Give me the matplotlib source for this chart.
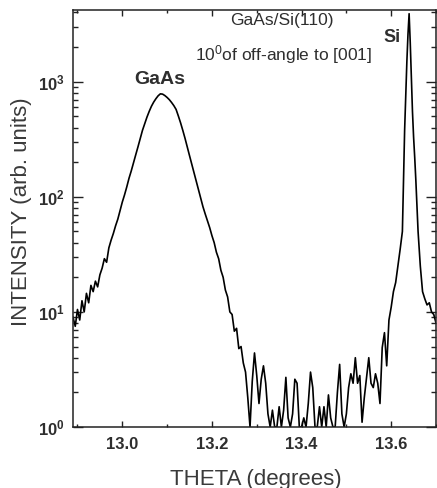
import numpy as np
import matplotlib
matplotlib.use("Agg")
import matplotlib.pyplot as plt
from matplotlib.ticker import LogLocator, MultipleLocator, NullFormatter

plt.rcParams['font.family'] = ['Liberation Sans', 'DejaVu Sans']
plt.rcParams['mathtext.fontset'] = 'custom'
plt.rcParams['mathtext.rm'] = 'Liberation Sans'
plt.rcParams['mathtext.bf'] = 'Liberation Sans:bold'
plt.rcParams['mathtext.it'] = 'Liberation Sans:italic'

# ---- data ----
# coarse scan 12.890 .. 13.615, step 0.005
scan1_start, scan1_step = 12.890, 0.005
scan1_intensity = [
    9.0, 7.5, 10.5, 8.5, 12.5, 10.0, 14.5, 12.0, 17.0, 15.0,          # 12.890-12.935
    18.5, 16.5, 21.0, 24.0, 29.0, 27.0, 36.0, 42.0, 48.0, 56.0,       # 12.940-12.985
    64.0, 76.0, 90.0, 104, 122, 145, 168, 198, 232, 272,              # 12.990-13.035
    322, 378, 432, 492, 552, 612, 665, 712, 755, 785,                 # 13.040-13.085
    780, 758, 730, 698, 660, 620, 575, 505, 440, 378,                 # 13.090-13.135
    322, 272, 228, 192, 162, 136, 114, 97, 82, 71,                    # 13.140-13.185
    62, 54, 46, 40, 33, 29, 23, 20, 15.5, 13.5,                       # 13.190-13.235
    10.0, 9.5, 6.8, 7.2, 4.8, 5.0, 3.6, 3.0, 1.8, 1.0,                # 13.240-13.285
    2.5, 4.4, 2.8, 1.6, 2.6, 3.4, 2.4, 1.3, 1.0, 1.4,                 # 13.290-13.335
    1.0, 1.0, 1.5, 1.0, 1.4, 2.7, 1.2, 1.0, 1.3, 2.6,                 # 13.340-13.385
    2.4, 1.0, 1.0, 1.2, 1.0, 1.6, 3.0, 2.2, 1.0, 1.0,                 # 13.390-13.435
    1.5, 1.0, 1.5, 1.0, 1.9, 1.2, 1.0, 1.0, 2.0, 3.5,                 # 13.440-13.485
    1.3, 1.0, 1.3, 2.2, 2.9, 2.4, 4.0, 2.4, 2.8, 1.1,                 # 13.490-13.535
    1.8, 2.7, 4.0, 2.4, 2.2, 2.9, 2.4, 1.6, 4.9, 6.6,                 # 13.540-13.585
    3.4, 8.5, 11.0, 15.0, 18.0, 25.0,                                 # 13.590-13.615
]
# fine scan across the Si peak 13.620 .. 13.660, step 0.0025
scan2_start, scan2_step = 13.620, 0.0025
scan2_intensity = [
    35, 42, 50, 140, 380, 750, 1500, 2600, 3900,
    2200, 1100, 550, 330, 220, 140, 85, 50,
]
# coarse scan 13.665 .. 13.700, step 0.005
scan3_start, scan3_step = 13.665, 0.005
scan3_intensity = [25, 15, 13, 11.5, 12, 10, 9.5, 8]

theta = np.concatenate([
    scan1_start + scan1_step * np.arange(len(scan1_intensity)),
    scan2_start + scan2_step * np.arange(len(scan2_intensity)),
    scan3_start + scan3_step * np.arange(len(scan3_intensity)),
])
intensity = np.array(scan1_intensity + scan2_intensity + scan3_intensity, dtype=float)

xticks = [13.0, 13.2, 13.4, 13.6]
xtick_labels = ['13.0', '13.2', '13.4', '13.6']
yticks = [1, 10, 100, 1000]
ytick_labels = [r'$\mathbf{10^{0}}$', r'$\mathbf{10^{1}}$', r'$\mathbf{10^{2}}$', r'$\mathbf{10^{3}}$']

TXT = '#2e2e2e'

fig = plt.figure(figsize=(4.37, 4.88), dpi=100)
W, H = 437.0, 488.0
ax = fig.add_axes([73 / W, 1 - 427 / H, (436 - 73) / W, (427 - 10) / H])

ax.plot(theta, intensity, color='black', lw=1.2)
ax.set_yscale('log')
ax.set_xlim(12.89, 13.70)
ax.set_ylim(1, 4200)

ax.set_xticks(xticks)
ax.set_xticklabels(xtick_labels)
ax.xaxis.set_minor_locator(MultipleLocator(0.1))
ax.set_yticks(yticks)
ax.set_yticklabels(ytick_labels)
ax.yaxis.set_minor_locator(LogLocator(base=10, subs=np.arange(2, 10), numticks=20))
ax.yaxis.set_minor_formatter(NullFormatter())

for s in ax.spines.values():
    s.set_linewidth(1.1)
    s.set_color('#222222')

ax.tick_params(axis='both', which='both', direction='in', top=True, right=True,
               color='#222222', width=1.0, labelcolor=TXT)
ax.tick_params(axis='x', which='major', length=4.5, pad=7, labelsize=12)
ax.tick_params(axis='x', which='minor', length=2.3)
ax.tick_params(axis='y', which='major', length=7.5, pad=6, labelsize=12)
ax.tick_params(axis='y', which='minor', length=3.8)
for lab in ax.get_xticklabels():
    lab.set_fontweight('bold')

ax.text(13.084, 1040, 'GaAs', fontsize=14, fontweight='bold', color=TXT,
        ha='center', va='center')
ax.text(13.602, 2415, 'Si', fontsize=13, fontweight='bold', color=TXT,
        ha='center', va='center')
ax.text(13.356, 3390, 'GaAs/Si(110)', fontsize=12.5, color=TXT,
        ha='center', va='center')
ax.text(13.36, 1718, r'10$^{0}$of off-angle to [001]', fontsize=12.5, color=TXT,
        ha='center', va='center')

fig.text(256 / W, 3.0 / H, 'THETA (degrees)', fontsize=16, color='#3a3a3a',
         ha='center', va='baseline')
fig.text(22 / W, 1 - 212 / H, 'INTENSITY (arb. units)', fontsize=16, color='#3a3a3a',
         ha='center', va='center', rotation=90)

fig.savefig('out.png', dpi=100)
